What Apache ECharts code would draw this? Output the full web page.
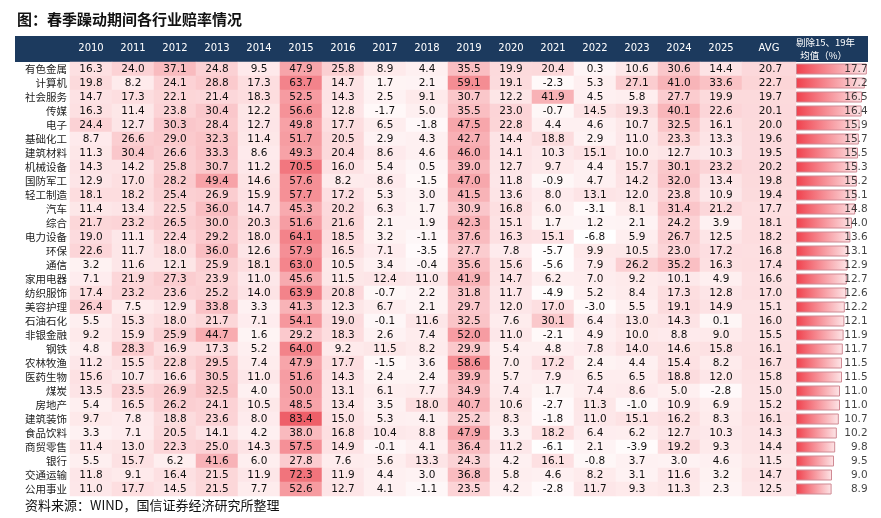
<!DOCTYPE html>
<html>
<head>
<meta charset="utf-8">
<script src="https://cdn.jsdelivr.net/npm/echarts@6/dist/echarts.min.js"></script>
<style>
  html, body { margin: 0; padding: 0; background: #fff; }
  #chart { width: 881px; height: 518px; }
</style>
</head>
<body>
<div id="chart"></div>
<script>
const years = ["2010", "2011", "2012", "2013", "2014", "2015", "2016", "2017", "2018",
  "2019", "2020", "2021", "2022", "2023", "2024", "2025"];

const industries = ["有色金属", "计算机", "社会服务", "传媒", "电子", "基础化工", "建筑材料", "机械设备",
  "国防军工", "轻工制造", "汽车", "综合", "电力设备", "环保", "通信", "家用电器", "纺织服饰", "美容护理",
  "石油石化", "非银金融", "钢铁", "农林牧渔", "医药生物", "煤炭", "房地产", "建筑装饰", "食品饮料",
  "商贸零售", "银行", "交通运输", "公用事业"];

// one row per industry, 2010..2025
const yearValues = [
  [16.3, 24.0, 37.1, 24.8, 9.5, 47.9, 25.8, 8.9, 4.4, 35.5, 19.9, 20.4, 0.3, 10.6, 30.6, 14.4],
  [19.8, 8.2, 24.1, 28.8, 17.3, 63.7, 14.7, 1.7, 2.1, 59.1, 19.1, -2.3, 5.3, 27.1, 41.0, 33.6],
  [14.7, 17.3, 22.1, 21.4, 18.3, 52.5, 14.3, 2.5, 9.1, 30.7, 12.2, 41.9, 4.5, 5.8, 27.7, 19.9],
  [16.3, 11.4, 23.8, 30.4, 12.2, 56.6, 12.8, -1.7, 5.0, 35.5, 23.0, -0.7, 14.5, 19.3, 40.1, 22.6],
  [24.4, 12.7, 30.3, 28.4, 12.7, 49.8, 17.7, 6.5, -1.8, 47.5, 22.8, 4.4, 4.6, 10.7, 32.5, 16.1],
  [8.7, 26.6, 29.0, 32.3, 11.4, 51.7, 20.5, 2.9, 4.3, 42.7, 14.4, 18.8, 2.9, 11.0, 23.3, 13.3],
  [11.3, 30.4, 26.6, 33.3, 8.6, 49.3, 20.4, 8.6, 4.6, 46.0, 14.1, 10.3, 15.1, 10.0, 12.7, 10.3],
  [14.3, 14.2, 25.8, 30.7, 11.2, 70.5, 16.0, 5.4, 0.5, 39.0, 12.7, 9.7, 4.4, 15.7, 30.1, 23.2],
  [12.9, 17.0, 28.2, 49.4, 14.6, 57.6, 8.2, 8.6, -1.5, 47.0, 11.8, -0.9, 4.7, 14.2, 32.0, 13.4],
  [18.1, 18.2, 25.4, 26.9, 15.9, 57.7, 17.2, 5.3, 3.0, 41.5, 13.6, 8.0, 13.1, 12.0, 23.8, 10.9],
  [11.4, 13.4, 22.5, 36.0, 14.7, 45.3, 20.2, 6.3, 1.7, 30.9, 16.8, 6.0, -3.1, 8.1, 31.4, 21.2],
  [21.7, 23.2, 26.5, 30.0, 20.3, 51.6, 21.6, 2.1, 1.9, 42.3, 15.1, 1.7, 1.2, 2.1, 24.2, 3.9],
  [19.0, 11.1, 22.4, 29.2, 18.0, 64.1, 18.5, 3.2, -1.1, 37.6, 16.3, 15.1, -6.8, 5.9, 26.7, 12.5],
  [22.6, 11.7, 18.0, 36.0, 12.6, 57.9, 16.5, 7.1, -3.5, 27.7, 7.8, -5.7, 9.9, 10.5, 23.0, 17.2],
  [3.2, 11.6, 12.1, 25.9, 18.1, 63.0, 10.5, 3.4, -0.4, 35.6, 15.6, -5.6, 7.9, 26.2, 35.2, 16.3],
  [7.1, 21.9, 27.3, 23.9, 11.0, 45.6, 11.5, 12.4, 11.0, 41.9, 14.7, 6.2, 7.0, 9.2, 10.1, 4.9],
  [17.4, 23.2, 23.6, 25.2, 14.0, 63.9, 20.8, -0.7, 2.2, 31.8, 11.7, -4.9, 5.2, 8.4, 17.3, 12.8],
  [26.4, 7.5, 12.9, 33.8, 3.3, 41.3, 12.3, 6.7, 2.1, 29.7, 12.0, 17.0, -3.0, 5.5, 19.1, 14.9],
  [5.5, 15.3, 18.0, 21.7, 7.1, 54.1, 19.0, -0.1, 11.6, 32.5, 7.6, 30.1, 6.4, 13.0, 14.3, 0.1],
  [9.2, 15.9, 25.9, 44.7, 1.6, 29.2, 18.3, 2.6, 7.4, 52.0, 11.0, -2.1, 4.9, 10.0, 8.8, 9.0],
  [4.8, 28.3, 16.9, 17.3, 5.2, 64.0, 9.2, 11.5, 8.2, 29.9, 5.4, 4.8, 7.8, 14.0, 14.6, 15.8],
  [11.2, 15.5, 22.8, 29.5, 7.4, 47.9, 17.7, -1.5, 3.6, 58.6, 7.0, 17.2, 2.4, 4.4, 15.4, 8.2],
  [15.6, 10.7, 16.6, 30.5, 11.0, 51.6, 14.3, 2.4, 2.4, 39.9, 5.7, 7.9, 6.5, 6.5, 18.8, 12.0],
  [13.5, 23.5, 26.9, 32.5, 4.0, 50.0, 13.1, 6.1, 7.7, 34.9, 7.4, 1.7, 7.4, 8.6, 5.0, -2.8],
  [5.4, 16.5, 26.2, 24.1, 10.5, 48.5, 13.4, 3.5, 18.0, 40.7, 10.6, -2.7, 11.3, -1.0, 10.9, 6.9],
  [9.7, 7.8, 18.8, 23.6, 8.0, 83.4, 15.0, 5.3, 4.1, 25.2, 8.3, -1.8, 11.0, 15.1, 16.2, 8.3],
  [3.3, 7.1, 20.5, 14.1, 4.2, 38.0, 16.8, 10.4, 8.8, 47.9, 3.3, 18.2, 6.4, 6.2, 12.7, 10.3],
  [11.4, 13.0, 22.3, 25.0, 14.3, 57.5, 14.9, -0.1, 4.1, 36.4, 11.2, -6.1, 2.1, -3.9, 19.2, 9.3],
  [5.5, 15.7, 6.2, 41.6, 6.0, 27.8, 7.6, 5.6, 13.3, 24.3, 4.2, 16.1, -0.8, 3.7, 3.0, 4.6],
  [11.8, 9.1, 16.4, 21.5, 11.9, 72.3, 11.9, 4.4, 3.0, 36.8, 5.8, 4.6, 8.2, 3.1, 11.6, 3.2],
  [11.0, 17.7, 14.5, 21.5, 7.7, 52.6, 12.7, 4.1, -1.1, 23.5, 4.2, -2.8, 11.7, 9.3, 11.3, 2.3]
];

const avgValues = [20.7, 22.7, 19.7, 20.1, 20.0, 19.6, 19.5, 20.2, 19.8, 19.4, 17.7, 18.1, 18.2, 16.8,
  17.4, 16.6, 17.0, 15.1, 16.0, 15.5, 16.1, 16.7, 15.8, 15.0, 15.2, 16.1, 14.3, 14.4, 11.5, 14.7, 12.5];

const exclValues = [17.7, 17.2, 16.5, 16.4, 15.9, 15.7, 15.5, 15.3, 15.2, 15.1, 14.8, 14.0, 13.6, 13.1,
  12.9, 12.7, 12.6, 12.2, 12.1, 11.9, 11.7, 11.5, 11.5, 11.0, 11.0, 10.7, 10.2, 9.8, 9.5, 9.0, 8.9];

const heatData = [];
yearValues.forEach((row, r) => row.forEach((v, c) => heatData.push([c, r, v])));
const avgData = avgValues.map((v, r) => [0, r, v]);

const numFont = { fontFamily: "DejaVu Sans", fontSize: 10.5, color: "#111" };
const gridTop = 62, gridBottom = 22;

const catY = (gridIndex, showLabel) => ({
  type: "category", gridIndex, data: industries, inverse: true,
  axisLine: { show: false }, axisTick: { show: false }, splitLine: { show: false },
  axisLabel: showLabel
    ? { show: true, fontFamily: "Noto Sans CJK SC", fontSize: 10.5, color: "#222", margin: 3 }
    : { show: false },
});

const headerLabel = { color: "#fff", fontFamily: "DejaVu Sans", fontSize: 10, margin: 9 };

const chart = echarts.init(document.getElementById("chart"));
chart.setOption({
  animation: false,
  title: {
    text: "图：春季躁动期间各行业赔率情况", left: 12, top: 7,
    textStyle: { fontFamily: "Noto Sans CJK SC", fontSize: 15, fontWeight: "bold", color: "#111" },
  },
  graphic: [
    { type: "rect", z: -10, shape: { x: 15, y: 36, width: 853, height: 26 }, style: { fill: "#1c3a5e" } },
    {
      type: "text", z: 100, left: 796, top: 36,
      style: {
        text: "剔除15、19年\n  均值（%）", fill: "#fff", fontSize: 9.5, lineHeight: 13,
        fontFamily: "Noto Sans CJK SC",
      },
    },
    {
      type: "text", left: 25, top: 499,
      style: { text: "资料来源：WIND，国信证券经济研究所整理", fill: "#111", fontSize: 13, fontFamily: "Noto Sans CJK SC" },
    },
  ],
  grid: [
    { left: 70, width: 672, top: gridTop, bottom: gridBottom },
    { left: 742, width: 54, top: gridTop, bottom: gridBottom },
    { left: 796, width: 72, top: gridTop, bottom: gridBottom },
  ],
  xAxis: [
    {
      type: "category", gridIndex: 0, data: years, position: "top",
      axisLine: { show: false }, axisTick: { show: false }, axisLabel: headerLabel,
    },
    {
      type: "category", gridIndex: 1, data: ["AVG"], position: "top",
      axisLine: { show: false }, axisTick: { show: false }, axisLabel: headerLabel,
    },
    { type: "value", gridIndex: 2, min: 0, max: 18, show: false },
  ],
  yAxis: [catY(0, true), catY(1, false), catY(2, false)],
  visualMap: {
    show: false, min: -7, max: 84, seriesIndex: [0, 1],
    inRange: { color: ["#ffffff", "#fde1e3", "#f9b9bd", "#f4888f", "#ee5e68"] },
  },
  series: [
    {
      type: "heatmap", xAxisIndex: 0, yAxisIndex: 0, data: heatData,
      label: { show: true, ...numFont, formatter: (p) => p.value[2].toFixed(1) },
    },
    {
      type: "heatmap", xAxisIndex: 1, yAxisIndex: 1, data: avgData,
      label: { show: true, ...numFont, position: "insideRight", distance: 14, formatter: (p) => p.value[2].toFixed(1) },
    },
    {
      type: "bar", xAxisIndex: 2, yAxisIndex: 2, data: exclValues, barWidth: 11,
      itemStyle: {
        borderColor: "#d08a94", borderWidth: 1,
        color: new echarts.graphic.LinearGradient(0, 0, 1, 0, [
          { offset: 0, color: "#f0404c" }, { offset: 1, color: "#fde6e8" },
        ]),
      },
      z: 2,
    },
    {
      type: "scatter", xAxisIndex: 2, yAxisIndex: 2, symbolSize: 0, z: 5,
      data: exclValues.map((v, r) => [17.9, r, v]),
      label: { show: true, position: "left", distance: 0, ...numFont, formatter: (p) => p.value[2].toFixed(1) },
    },
  ],
});
</script>
</body>
</html>
